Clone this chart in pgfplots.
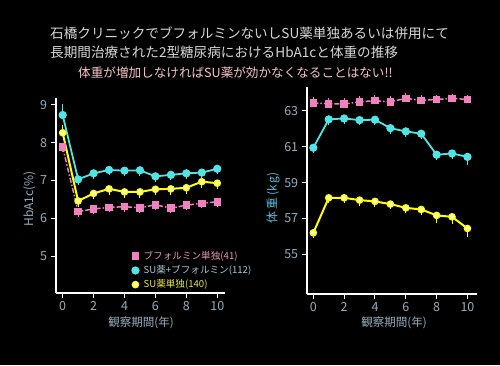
\documentclass[border=0pt]{standalone}
\usepackage{fontspec}
\setmainfont{Noto Sans CJK JP}
\usepackage{pgfplots}
\pgfplotsset{compat=1.18}
\definecolor{pinkc}{RGB}{240,128,190}
\definecolor{cyanc}{RGB}{80,228,228}
\definecolor{yelc}{RGB}{255,255,0}
\definecolor{yelfill}{RGB}{255,255,170}
\definecolor{tickc}{RGB}{150,172,192}
\definecolor{titc}{RGB}{215,215,215}
\definecolor{subc}{RGB}{245,195,205}
\pgfplotsset{
  myax/.style={
    scale only axis, anchor=south west,
    axis lines=left, axis line style={-, white, line width=1.6pt},
    tick align=outside, major tick length=5pt,
    tick style={white, line width=1pt},
    xtick={0,2,4,6,8,10},
    ticklabel style={font=\fontsize{12.5}{13}\selectfont, text=tickc},
    /pgf/number format/assume math mode=true,
    clip=false,
  },
  cy/.style={cyanc, line width=1.8pt, mark=*, mark size=3.2pt, mark options={fill=cyanc, draw=cyanc, solid}},
  ye/.style={yelc, line width=2pt, mark=*, mark size=3.2pt, mark options={fill=yelfill, draw=yelc, line width=1.2pt, solid}},
  pk/.style={pinkc, line width=1.5pt, dash pattern=on 5pt off 2pt on 1.5pt off 2pt, mark=square*, mark size=3pt, mark options={fill=pinkc, draw=pinkc, solid}},
  eb/.style={error bars/.cd, y dir=both, y explicit, error mark=none, error bar style={line width=1pt, solid}},
}
\begin{document}
\begin{tikzpicture}[x=1pt,y=1pt]
\fill[black] (0,0) rectangle (500,365);
% titles
\node[anchor=west, text=titc, font=\fontsize{13.6}{14}\selectfont, inner sep=0] at (50,331.5) {石橋クリニックでブフォルミンないしSU薬単独あるいは併用にて};
\node[anchor=west, text=titc, font=\fontsize{13.6}{14}\selectfont, inner sep=0] at (50,313) {長期間治療された2型糖尿病におけるHbA1cと体重の推移};
\node[anchor=west, text=subc, font=\fontsize{12.6}{13}\selectfont, inner sep=0] at (78,292.5) {体重が増加しなければSU薬が効かなくなることはない!!};

% left axis
\begin{axis}[myax, at={(55.7pt,72.3pt)}, width=169.3pt, height=194.4pt,
  xmin=-0.45, xmax=10.5, ymin=4.04, ymax=9.17, ytick={5,6,7,8,9},
  legend image code/.code={\draw[#1, only marks] plot coordinates {(0pt,0pt)};},
  legend style={at={(0.445,0.229)}, anchor=north west, draw=none, fill=none,
    font=\fontsize{9.6}{10}\selectfont, row sep=0.5pt, inner sep=1pt,
    /tikz/every odd column/.append style={column sep=3pt}},
  legend cell align=left]
\addplot[pk, eb] coordinates {
 (0,7.88) -= (0,0.13) += (0,0.05)
 (1,6.18) -= (0,0.14) += (0,0)
 (2,6.25) -= (0,0.13) += (0,0)
 (3,6.29) -= (0,0.13) += (0,0)
 (4,6.31) -= (0,0.13) += (0,0)
 (5,6.28) -= (0,0.13) += (0,0)
 (6,6.36) -= (0,0.13) += (0,0)
 (7,6.27) -= (0,0.13) += (0,0)
 (8,6.35) -= (0,0.13) += (0,0)
 (9,6.40) -= (0,0.13) += (0,0)
 (10,6.44) -= (0,0.13) += (0,0)
};
\addplot[cy, eb] coordinates {
 (0,8.73) += (0,0.30) -= (0,0.05)
 (1,7.03) -= (0,0.14) += (0,0)
 (2,7.19) -= (0,0.14) += (0,0)
 (3,7.28) -= (0,0.14) += (0,0)
 (4,7.26) -= (0,0.14) += (0,0)
 (5,7.27) -= (0,0.14) += (0,0)
 (6,7.11) -= (0,0.14) += (0,0)
 (7,7.15) -= (0,0.14) += (0,0)
 (8,7.19) -= (0,0.14) += (0,0)
 (9,7.21) -= (0,0.14) += (0,0)
 (10,7.31) -= (0,0.14) += (0,0)
};
\addplot[ye, eb] coordinates {
 (0,8.26) += (0,0.2) -= (0,0.05)
 (1,6.46) -= (0,0.16) += (0,0)
 (2,6.66) -= (0,0.16) += (0,0)
 (3,6.78) -= (0,0.16) += (0,0)
 (4,6.70) -= (0,0.16) += (0,0)
 (5,6.70) -= (0,0.16) += (0,0)
 (6,6.77) -= (0,0.16) += (0,0)
 (7,6.78) -= (0,0.16) += (0,0)
 (8,6.81) -= (0,0.16) += (0,0)
 (9,6.97) -= (0,0.16) += (0,0)
 (10,6.93) -= (0,0.16) += (0,0)
};
\legend{\textcolor[RGB]{232,150,185}{ブフォルミン単独(41)}, \textcolor[RGB]{165,200,218}{SU薬+ブフォルミン(112)}, \textcolor[RGB]{230,230,70}{SU薬単独(140)}}
\end{axis}

% right axis
\begin{axis}[myax, at={(306.7pt,71pt)}, width=170pt, height=207.3pt,
  xmin=-0.43, xmax=10.6, ymin=52.8, ymax=64.35, ytick={55,57,59,61,63}]
\addplot[pk, eb] coordinates {
 (0,63.45) += (0,0.35) -= (0,0)
 (1,63.40) += (0,0.30) -= (0,0)
 (2,63.38) += (0,0.35) -= (0,0)
 (3,63.51) += (0,0.30) -= (0,0)
 (4,63.57) += (0,0.30) -= (0,0)
 (5,63.51) += (0,0.30) -= (0,0)
 (6,63.70) += (0,0.30) -= (0,0)
 (7,63.59) += (0,0.30) -= (0,0)
 (8,63.64) += (0,0.25) -= (0,0)
 (9,63.70) += (0,0.25) -= (0,0)
 (10,63.64) += (0,0.25) -= (0,0)
};
\addplot[cy, eb] coordinates {
 (0,60.95) -= (0,0.3) += (0,0)
 (1,62.53) -= (0,0.3) += (0,0)
 (2,62.58) -= (0,0.3) += (0,0)
 (3,62.49) -= (0,0.3) += (0,0)
 (4,62.51) -= (0,0.3) += (0,0)
 (5,62.04) -= (0,0.3) += (0,0)
 (6,61.86) -= (0,0.3) += (0,0)
 (7,61.73) -= (0,0.3) += (0,0)
 (8,60.56) -= (0,0.3) += (0,0)
 (9,60.63) -= (0,0.3) += (0,0)
 (10,60.44) -= (0,0.45) += (0,0)
};
\addplot[ye, eb] coordinates {
 (0,56.21) -= (0,0.3) += (0,0)
 (1,58.16) -= (0,0.3) += (0,0)
 (2,58.16) -= (0,0.3) += (0,0)
 (3,58.03) -= (0,0.3) += (0,0)
 (4,57.96) -= (0,0.3) += (0,0)
 (5,57.81) -= (0,0.3) += (0,0)
 (6,57.60) -= (0,0.3) += (0,0)
 (7,57.51) -= (0,0.3) += (0,0)
 (8,57.18) -= (0,0.4) += (0,0)
 (9,57.10) -= (0,0.4) += (0,0)
 (10,56.45) -= (0,0.5) += (0,0)
};
\end{axis}

% axis labels
\node[rotate=90, text=tickc, font=\fontsize{12}{12}\selectfont] at (29.3,166) {HbA1c(\%)};
\node[rotate=90, text={rgb,255:red,90;green,185;blue,210}, font=\fontsize{12}{12}\selectfont] at (273,167) {体\,重\,(k\,g)};
\node[text=tickc, font=\fontsize{11.5}{12}\selectfont] at (141,42.3) {観察期間(年)};
\node[text=tickc, font=\fontsize{11.5}{12}\selectfont] at (394,42) {観察期間(年)};
\pgfresetboundingbox
\useasboundingbox (0,0) rectangle (500,365);
\end{tikzpicture}
\end{document}
